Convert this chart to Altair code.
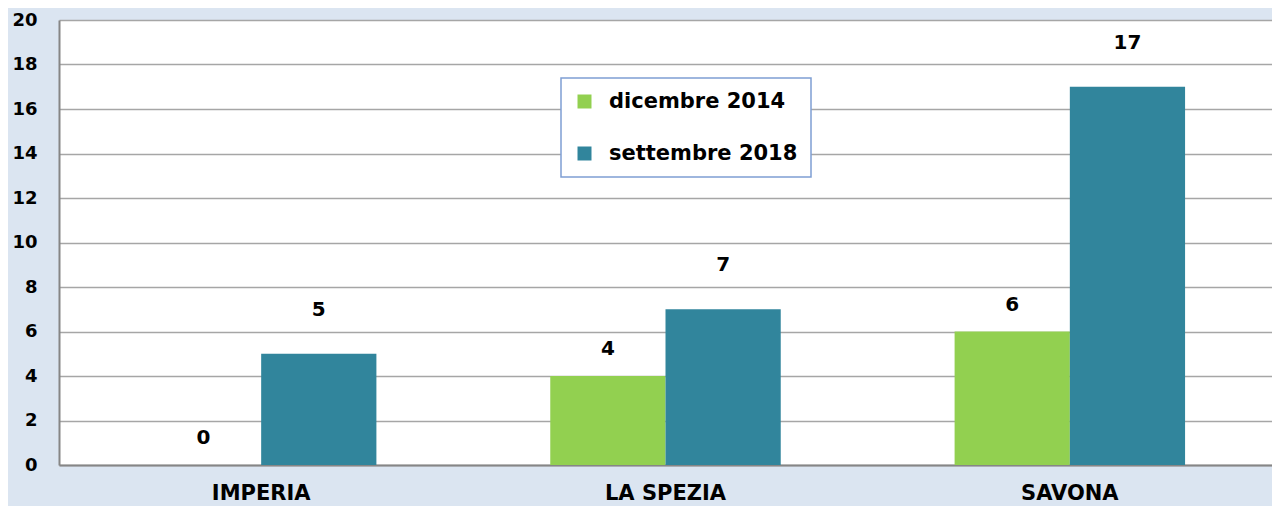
import altair as alt
import pandas as pd

provinces = ["IMPERIA", "LA SPEZIA", "SAVONA"]
series_names = ["dicembre 2014", "settembre 2018"]
dic_2014 = [0, 4, 6]
set_2018 = [5, 7, 17]
y_ticks = [0, 2, 4, 6, 8, 10, 12, 14, 16, 18, 20]
colors = ["#92d050", "#31859c"]

rows = []
for p, a, b in zip(provinces, dic_2014, set_2018):
    rows.append({"provincia": p, "serie": series_names[0], "valore": a})
    rows.append({"provincia": p, "serie": series_names[1], "valore": b})
df = pd.DataFrame(rows)

FONT = "DejaVu Sans"

x = alt.X(
    "provincia:N",
    sort=provinces,
    scale=alt.Scale(paddingInner=0.43, paddingOuter=0.215),
    axis=alt.Axis(
        title=None, labelAngle=0, labelFont=FONT, labelFontSize=21,
        labelFontWeight="bold", labelColor="black", labelPadding=17,
        ticks=False, domainColor="#868686", domainWidth=2, grid=False,
    ),
)
xo = alt.XOffset("serie:N", sort=series_names,
                 scale=alt.Scale(paddingInner=0, paddingOuter=0))
y = alt.Y(
    "valore:Q",
    scale=alt.Scale(domain=[0, 20], nice=False),
    axis=alt.Axis(
        title=None, values=y_ticks, labelFont=FONT, labelFontSize=18,
        labelFontWeight="bold", labelColor="black", labelPadding=22,
        ticks=False, domainColor="#868686", domainWidth=2,
        gridColor="#a6a6a6", gridWidth=1.5,
    ),
)
color = alt.Color(
    "serie:N",
    scale=alt.Scale(domain=series_names, range=colors),
    legend=alt.Legend(
        title=None, orient="none", legendX=502, legendY=58, direction="vertical",
        fillColor="white", strokeColor="#7f9fd3", padding=13,
        symbolType="square", symbolSize=196, symbolStrokeWidth=0,
        labelFont=FONT, labelFontSize=21, labelFontWeight="bold",
        labelColor="black", rowPadding=30, labelOffset=14, labelLimit=400,
    ),
)

base = alt.Chart(df).encode(x=x, xOffset=xo)
bars = base.mark_bar().encode(y=y, color=color)
text_a = base.transform_filter(alt.datum.serie == series_names[0]).mark_text(
    dy=-27, font=FONT, fontSize=20, fontWeight="bold", color="black"
).encode(y=alt.Y("valore:Q"), text="valore:Q")
text_b = base.transform_filter(alt.datum.serie == series_names[1]).mark_text(
    dy=-44, font=FONT, fontSize=20, fontWeight="bold", color="black"
).encode(y=alt.Y("valore:Q"), text="valore:Q")

chart = alt.layer(bars, text_a, text_b).properties(
    width=1213, height=445, background="#dbe5f1",
    padding={"left": 51, "top": 12, "right": 0, "bottom": 41},
    autosize=alt.AutoSizeParams(type="none"),
).configure_view(fill="white", strokeOpacity=0).configure_legend(strokeWidth=1.5)

chart.save("out.html", embed_options={"renderer": "svg", "actions": False})
